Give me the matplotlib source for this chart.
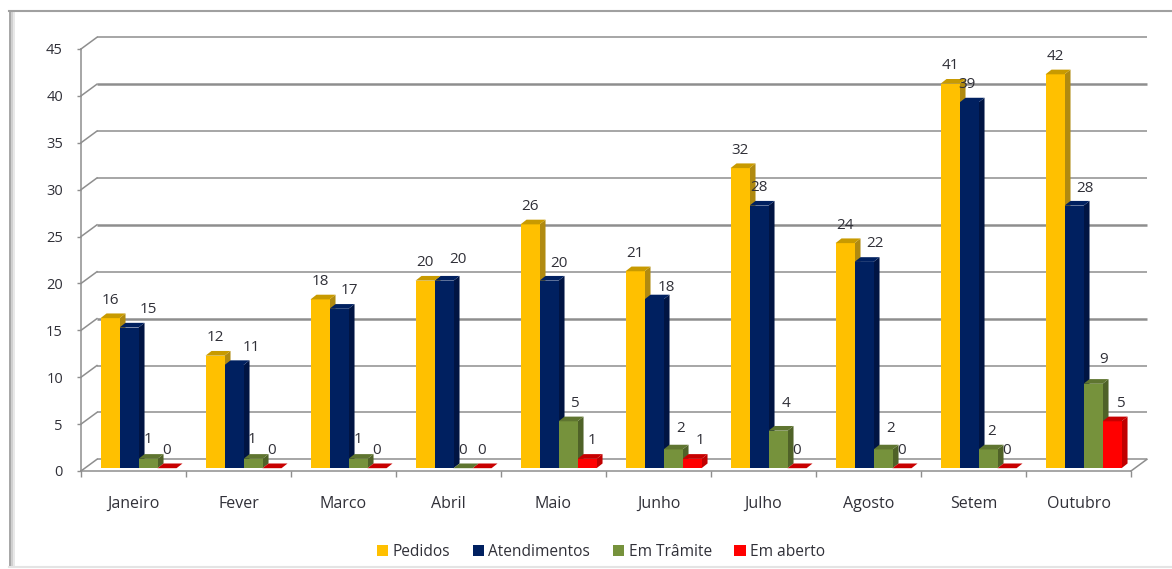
import matplotlib
matplotlib.use("Agg")
import matplotlib.pyplot as plt
from matplotlib.lines import Line2D
from matplotlib.patches import Polygon, Rectangle

plt.rcParams['font.family'] = ['Open Sans', 'DejaVu Sans']

meses = ["Janeiro", "Fever", "Marco", "Abril", "Maio", "Junho", "Julho", "Agosto", "Setem", "Outubro"]
pedidos = [16, 12, 18, 20, 26, 21, 32, 24, 41, 42]
atendimentos = [15, 11, 17, 20, 20, 18, 28, 22, 39, 28]
em_tramite = [1, 1, 1, 0, 5, 2, 4, 2, 2, 9]
em_aberto = [0, 0, 0, 0, 1, 1, 0, 0, 0, 5]

nomes = ["Pedidos", "Atendimentos", "Em Trâmite", "Em aberto"]
series = [pedidos, atendimentos, em_tramite, em_aberto]
cores = ["#FFC000", "#002060", "#76923C", "#FF0000"]
lados = ["#B08A10", "#001443", "#4F6228", "#C00000"]
topos = ["#C89A00", "#002060", "#5F7530", "#C80000"]

# ajuste manual dos rotulos, em pixels (o Excel nao centra todos)
rot_dx = [
    [0] * 10,
    [19, 17, 10, 14, 10, 12, 0, 11, -2, 11],
    [0, -1, 0, 0, 6, 8, 8, 8, 4, 11],
    [0, 0, 0, 0, 5, 8, 0, 0, 0, 8],
]
rot_dy = [
    [18] * 10,
    [18, 18, 18, 21, 17, 12, 18, 18, 18, 17],
    [19, 19, 19, 18, 18, 21, 27, 21, 18, 24],
    [18] * 10,
]

W, H = 1172, 569
fig = plt.figure(figsize=(W / 100, H / 100), dpi=100)

# moldura da imagem
for i, c in enumerate(["#E8E8E8", "#D0D0D0", "#A8A8A8"]):
    fig.add_artist(Rectangle(((13 - i * 2) / W, 0.003), 2 / W, 1 - 14 / H,
                             transform=fig.transFigure, color=c, lw=0))
fig.add_artist(Line2D([9 / W, 1], [1 - 11 / H] * 2, color="#A0A0A0", lw=1.5))
fig.add_artist(Line2D([9 / W, 1], [2 / H] * 2, color="#E4E4E4", lw=1.5))

ax = fig.add_axes([81 / W, 1 - 471 / H, 1050 / W, 422 / H])
ax.set_xlim(0, 10)
ax.set_ylim(0, 45)
ax.patch.set_visible(False)

# parede do fundo (deslocamento obliquo do 3D)
fundo_x, fundo_y = 0.152, 1.25
cor_grade = "#8E8E8E"
fortes = [15, 25, 40]
for v in range(0, 50, 5):
    lw = 1.8 if v in fortes else 1.1
    ax.plot([fundo_x, 10 + fundo_x], [v + fundo_y] * 2, color=cor_grade, lw=lw,
            clip_on=False, zorder=1, solid_capstyle="butt")
    ax.plot([0, fundo_x], [v, v + fundo_y], color=cor_grade, lw=1.1,
            clip_on=False, zorder=1)
ax.plot([10, 10 + fundo_x], [0, fundo_y], color=cor_grade, lw=1.1, clip_on=False, zorder=1)

# barras
base = 0.3
larg = 0.181
inicio = 0.186
prof_x, prof_y = 0.057, 0.5
for s, valores in enumerate(series):
    for m, v in enumerate(valores):
        x0 = m + inicio + s * larg
        x1 = x0 + larg
        topo = base + v
        zo = 3 + m * 10 - s
        if v > 0:
            ax.bar(x0, v, width=larg, bottom=base, align="edge", color=cores[s], lw=0,
                   clip_on=False, zorder=zo + 1)
            ax.add_patch(Polygon([(x1, base), (x1 + prof_x, base + prof_y),
                                  (x1 + prof_x, topo + prof_y), (x1, topo)],
                                 color=lados[s], lw=0, clip_on=False, zorder=zo))
        ax.add_patch(Polygon([(x0, topo), (x1, topo), (x1 + prof_x, topo + prof_y),
                              (x0 + prof_x, topo + prof_y)],
                             color=topos[s], lw=0, clip_on=False, zorder=zo + 1))
        ax.annotate(str(v), (x0 + larg / 2, topo), xytext=(rot_dx[s][m], rot_dy[s][m]),
                    textcoords="offset pixels", ha="center", va="center", fontsize=11,
                    color="#303038", zorder=300, annotation_clip=False)

# eixos
for lado in ["top", "right"]:
    ax.spines[lado].set_visible(False)
for lado in ["left", "bottom"]:
    ax.spines[lado].set_color(cor_grade)
    ax.spines[lado].set_linewidth(1.1)
    ax.spines[lado].set_zorder(2)
ax.set_yticks(range(0, 50, 5))
ax.set_xticks(range(0, 11))
ax.set_xticklabels([])
ax.set_xticks([m + 0.5 for m in range(10)], meses, minor=True)
ax.tick_params(axis="x", which="major", length=4, color=cor_grade, width=1)
ax.tick_params(axis="x", which="minor", length=0, pad=18, labelsize=11.5, labelcolor="#303038")
ax.tick_params(axis="y", length=3, color=cor_grade, width=1, pad=10, labelsize=10.5, labelcolor="#303038")

# legenda
marcas = [Rectangle((0, 0), 1, 1, color=c, lw=0) for c in cores]
fig.legend(marcas, nomes, loc="center", bbox_to_anchor=(601 / W, 1 - 552 / H), ncol=4, frameon=False,
           fontsize=11.2, handlelength=0.72, handleheight=0.72, handletextpad=0.3, columnspacing=1.45,
           labelcolor="#303038")

fig.savefig("out.png", dpi=100)
